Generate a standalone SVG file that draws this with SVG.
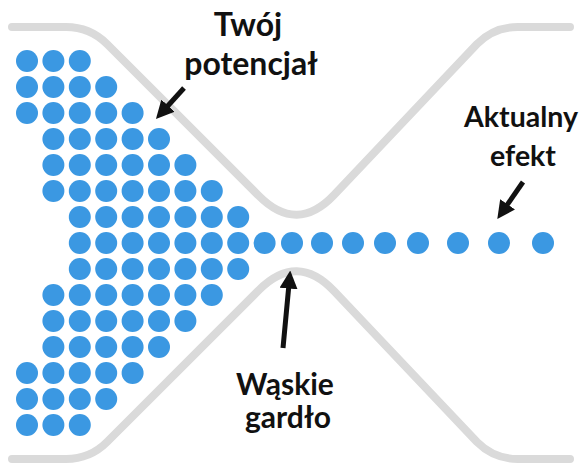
<svg xmlns="http://www.w3.org/2000/svg" width="587" height="463" viewBox="0 0 587 463">
<style>
.wall{fill:none;stroke:#dadada;stroke-width:8;stroke-linecap:round;stroke-linejoin:round}
.dot{fill:#3b98e2}
.lbl{font-family:Lato,"Open Sans","Liberation Sans",sans-serif;font-weight:bold;fill:#111;text-anchor:middle}
.big{font-size:32px}
.mid{font-size:30px}
.sm{font-size:28.5px}
.arr{stroke:#111;stroke-width:5;fill:none;marker-end:url(#head)}
</style>
<defs>
<marker id="head" markerUnits="userSpaceOnUse" markerWidth="18" markerHeight="18" viewBox="0 0 16 16" refX="4" refY="8" orient="auto">
<path d="M0,0 L16,8 L0,16 z" fill="#111"/>
</marker>
</defs>
<rect width="587" height="463" fill="#fff"/>
<g id="funnel">
<path class="wall" d="M12,27 H66 Q90,27 107,44 L259,196 Q297,234 334,195 L477,44 Q494,27 518,27 H570"/>
<path class="wall" d="M12,459 H66 Q90,459 107,442 L259,290 Q297,252 334,291 L477,442 Q494,459 518,459 H570"/>
</g>
<g id="dots" class="dot">
<circle cx="27" cy="61" r="11"/><circle cx="53.4" cy="61" r="11"/><circle cx="79.8" cy="61" r="11"/>
<circle cx="27" cy="87" r="11"/><circle cx="53.4" cy="87" r="11"/><circle cx="79.8" cy="87" r="11"/><circle cx="106.2" cy="87" r="11"/>
<circle cx="27" cy="113" r="11"/><circle cx="53.4" cy="113" r="11"/><circle cx="79.8" cy="113" r="11"/><circle cx="106.2" cy="113" r="11"/><circle cx="132.6" cy="113" r="11"/>
<circle cx="53.4" cy="139" r="11"/><circle cx="79.8" cy="139" r="11"/><circle cx="106.2" cy="139" r="11"/><circle cx="132.6" cy="139" r="11"/><circle cx="159" cy="139" r="11"/>
<circle cx="53.4" cy="165" r="11"/><circle cx="79.8" cy="165" r="11"/><circle cx="106.2" cy="165" r="11"/><circle cx="132.6" cy="165" r="11"/><circle cx="159" cy="165" r="11"/><circle cx="185.4" cy="165" r="11"/>
<circle cx="53.4" cy="191" r="11"/><circle cx="79.8" cy="191" r="11"/><circle cx="106.2" cy="191" r="11"/><circle cx="132.6" cy="191" r="11"/><circle cx="159" cy="191" r="11"/><circle cx="185.4" cy="191" r="11"/><circle cx="211.8" cy="191" r="11"/>
<circle cx="79.8" cy="217" r="11"/><circle cx="106.2" cy="217" r="11"/><circle cx="132.6" cy="217" r="11"/><circle cx="159" cy="217" r="11"/><circle cx="185.4" cy="217" r="11"/><circle cx="211.8" cy="217" r="11"/><circle cx="238.2" cy="217" r="11"/>
<circle cx="79.8" cy="243" r="11"/><circle cx="106.2" cy="243" r="11"/><circle cx="132.6" cy="243" r="11"/><circle cx="159" cy="243" r="11"/><circle cx="185.4" cy="243" r="11"/><circle cx="211.8" cy="243" r="11"/><circle cx="238.2" cy="243" r="11"/>
<circle cx="264.6" cy="243" r="11"/><circle cx="292" cy="243" r="11"/><circle cx="322" cy="243" r="11"/><circle cx="353" cy="243" r="11"/><circle cx="385" cy="243" r="11"/><circle cx="418" cy="243" r="11"/><circle cx="458" cy="243" r="11"/><circle cx="499" cy="243" r="11"/><circle cx="543" cy="243" r="11"/>
<circle cx="79.8" cy="269" r="11"/><circle cx="106.2" cy="269" r="11"/><circle cx="132.6" cy="269" r="11"/><circle cx="159" cy="269" r="11"/><circle cx="185.4" cy="269" r="11"/><circle cx="211.8" cy="269" r="11"/><circle cx="238.2" cy="269" r="11"/>
<circle cx="53.4" cy="295" r="11"/><circle cx="79.8" cy="295" r="11"/><circle cx="106.2" cy="295" r="11"/><circle cx="132.6" cy="295" r="11"/><circle cx="159" cy="295" r="11"/><circle cx="185.4" cy="295" r="11"/><circle cx="211.8" cy="295" r="11"/>
<circle cx="53.4" cy="321" r="11"/><circle cx="79.8" cy="321" r="11"/><circle cx="106.2" cy="321" r="11"/><circle cx="132.6" cy="321" r="11"/><circle cx="159" cy="321" r="11"/><circle cx="185.4" cy="321" r="11"/>
<circle cx="53.4" cy="347" r="11"/><circle cx="79.8" cy="347" r="11"/><circle cx="106.2" cy="347" r="11"/><circle cx="132.6" cy="347" r="11"/><circle cx="159" cy="347" r="11"/>
<circle cx="27" cy="373" r="11"/><circle cx="53.4" cy="373" r="11"/><circle cx="79.8" cy="373" r="11"/><circle cx="106.2" cy="373" r="11"/><circle cx="132.6" cy="373" r="11"/>
<circle cx="27" cy="399" r="11"/><circle cx="53.4" cy="399" r="11"/><circle cx="79.8" cy="399" r="11"/><circle cx="106.2" cy="399" r="11"/>
<circle cx="27" cy="425" r="11"/><circle cx="53.4" cy="425" r="11"/><circle cx="79.8" cy="425" r="11"/>
</g>
<g id="connectors">
<line class="arr" x1="184" y1="88" x2="165" y2="109"/>
<line class="arr" x1="283" y1="348" x2="289" y2="284"/>
<line class="arr" x1="523" y1="182" x2="505" y2="208"/>
</g>
<g id="label-potencjal">
<text class="lbl big" x="248" y="36">Twój</text>
<text class="lbl big" x="251" y="75">potencjał</text>
</g>
<g id="label-efekt">
<text class="lbl sm" x="521" y="127">Aktualny</text>
<text class="lbl sm" x="523" y="166">efekt</text>
</g>
<g id="label-gardlo">
<text class="lbl mid" x="285" y="395">Wąskie</text>
<text class="lbl mid" x="288" y="428">gardło</text>
</g>
</svg>
